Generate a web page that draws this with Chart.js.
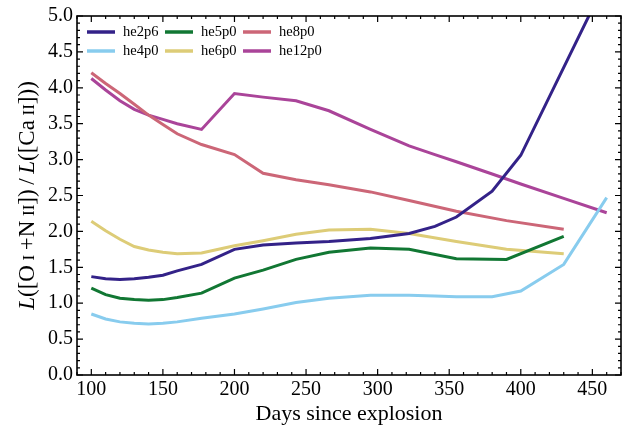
<!DOCTYPE html>
<html>
<head>
<meta charset="utf-8">
<script src="https://cdn.jsdelivr.net/npm/chart.js@4.4.0/dist/chart.umd.min.js"></script>
<style>
  html, body { margin: 0; padding: 0; background: #ffffff; }
  #wrap { width: 635px; height: 436px; position: relative; }
</style>
</head>
<body>
<div id="wrap"><canvas id="ratioChart"></canvas></div>
<script>
// data (null = no model at that epoch)
const days   = [100, 110, 120, 130, 140, 150, 160, 177, 200, 220, 243, 266, 295, 322, 340, 355, 380, 390, 400, 430, 450, 460];
const he2p6  = [1.37, 1.34, 1.33, 1.34, 1.36, 1.39, 1.45, 1.54, 1.75, 1.81, 1.84, 1.86, 1.90, 1.97, 2.07, 2.20, 2.56, null, 3.06, null, 5.10, null];
const he4p0  = [0.85, 0.78, 0.74, 0.72, 0.71, 0.72, 0.74, 0.79, 0.85, 0.92, 1.01, 1.07, 1.11, 1.11, 1.10, 1.09, 1.09, null, 1.17, 1.54, null, 2.47];
const he5p0  = [1.21, 1.12, 1.07, 1.05, 1.04, 1.05, 1.08, 1.14, 1.35, 1.46, 1.61, 1.71, 1.77, 1.75, null, 1.62, null, 1.61, null, 1.93, null, null];
const he6p0  = [2.14, 2.01, 1.89, 1.79, 1.74, 1.71, 1.69, 1.70, 1.80, 1.87, 1.96, 2.02, 2.03, 1.97, null, 1.86, null, 1.75, null, 1.69, null, null];
const he8p0  = [4.21, 4.06, 3.92, 3.77, 3.62, 3.49, 3.36, 3.21, 3.07, 2.81, 2.72, 2.65, 2.55, 2.43, null, 2.28, null, 2.15, null, 2.03, null, null];
const he12p0 = [4.13, 3.97, 3.82, 3.70, 3.62, 3.56, 3.50, 3.42, 3.92, 3.87, 3.82, 3.68, 3.42, 3.19, 3.07, 2.97, 2.80, null, 2.66, 2.46, null, 2.26];

const xTicks = [100, 150, 200, 250, 300, 350, 400, 450];
const yTicks = [0, 0.5, 1, 1.5, 2, 2.5, 3, 3.5, 4, 4.5, 5];
// ==================

const serif = "'Liberation Serif', 'DejaVu Serif', serif";

function series(label, values, color) {
  return {
    label: label,
    data: days.map((d, i) => ({x: d, y: values[i]})),
    borderColor: color,
    backgroundColor: color,
    borderWidth: 3,
    pointRadius: 0,
    tension: 0,
    spanGaps: true,
    fill: false
  };
}

// matplotlib-like legend, 3 columns filled top to bottom
const cornerLegend = {
  id: 'cornerLegend',
  afterDraw(chart) {
    const ctx = chart.ctx;
    const a = chart.chartArea;
    ctx.save();
    ctx.font = '14.5px ' + serif;
    ctx.textBaseline = 'middle';
    chart.data.datasets.forEach((ds, i) => {
      const x = a.left + 10 + Math.floor(i / 2) * 78;
      const y = a.top + 16 + (i % 2) * 19;
      ctx.strokeStyle = ds.borderColor;
      ctx.lineWidth = 3.5;
      ctx.beginPath();
      ctx.moveTo(x, y);
      ctx.lineTo(x + 28, y);
      ctx.stroke();
      ctx.fillStyle = '#000';
      ctx.fillText(ds.label, x + 36, y);
    });
    ctx.restore();
  }
};

// box + inward ticks on all four sides
const frameTicks = {
  id: 'frameTicks',
  afterDatasetsDraw(chart) {
    const ctx = chart.ctx;
    const a = chart.chartArea;
    const xs = chart.scales.x;
    const ys = chart.scales.y;
    ctx.save();
    ctx.strokeStyle = '#000';
    ctx.lineWidth = 1.2;
    ctx.beginPath();
    for (let d = 90; d <= 470; d += 10) {
      const px = xs.getPixelForValue(d);
      const len = d % 50 === 0 ? 6 : 3;
      ctx.moveTo(px, a.bottom); ctx.lineTo(px, a.bottom - len);
      ctx.moveTo(px, a.top); ctx.lineTo(px, a.top + len);
    }
    for (let k = 0; k <= 50; k++) {
      const py = ys.getPixelForValue(k / 10);
      const len = k % 5 === 0 ? 6 : 3;
      ctx.moveTo(a.left, py); ctx.lineTo(a.left + len, py);
      ctx.moveTo(a.right, py); ctx.lineTo(a.right - len, py);
    }
    ctx.stroke();
    ctx.lineWidth = 1.6;
    ctx.strokeRect(a.left, a.top, a.right - a.left, a.bottom - a.top);
    ctx.restore();
  }
};

// y title with italic L and small-cap ionisation stages
const yTitle = {
  id: 'yTitle',
  afterDraw(chart) {
    const ctx = chart.ctx;
    const a = chart.chartArea;
    const size = 23;
    const normal = size + 'px ' + serif;
    const italic = 'italic ' + size + 'px ' + serif;
    const small = Math.round(size * 0.74) + 'px ' + serif;
    const parts = [
      ['L', italic], ['([O\u2009', normal], ['I', small], ['\u2009+N\u2009', normal], ['II', small], ['])\u2009/\u2009', normal],
      ['L', italic], ['([Ca\u2009', normal], ['II', small], [']))', normal]
    ];
    ctx.save();
    let total = 0;
    parts.forEach(p => { ctx.font = p[1]; total += ctx.measureText(p[0]).width; });
    ctx.translate(26, (a.top + a.bottom) / 2);
    ctx.rotate(-Math.PI / 2);
    ctx.fillStyle = '#000';
    ctx.textBaseline = 'alphabetic';
    let x = -total / 2;
    parts.forEach(p => {
      ctx.font = p[1];
      ctx.fillText(p[0], x, 8);
      x += ctx.measureText(p[0]).width;
    });
    ctx.restore();
  }
};

const ctx = document.getElementById('ratioChart').getContext('2d');
const ratioChart = new Chart(ctx, {
  type: 'line',
  data: {
    datasets: [
      series('he2p6', he2p6, '#332288'),
      series('he4p0', he4p0, '#88CCEE'),
      series('he5p0', he5p0, '#117733'),
      series('he6p0', he6p0, '#DDCC77'),
      series('he8p0', he8p0, '#CC6677'),
      series('he12p0', he12p0, '#AA4499')
    ]
  },
  options: {
    responsive: true,
    maintainAspectRatio: false,
    animation: false,
    layout: { padding: { left: 0, top: 13, right: 14, bottom: 0 } },
    plugins: {
      legend: { display: false },
      tooltip: { enabled: false }
    },
    scales: {
      x: {
        type: 'linear',
        min: 90,
        max: 470,
        afterBuildTicks: s => { s.ticks = xTicks.map(v => ({value: v})); },
        afterFit: s => { s.height = 61; },
        grid: { display: false, drawTicks: false },
        border: { display: false },
        ticks: {
          color: '#000',
          font: { family: serif, size: 20 },
          padding: 3,
          maxRotation: 0,
          autoSkip: false
        },
        title: {
          display: true,
          text: 'Days since explosion',
          color: '#000',
          font: { family: serif, size: 22 },
          padding: { top: 0, bottom: 9 }
        }
      },
      y: {
        type: 'linear',
        min: 0,
        max: 5,
        afterBuildTicks: s => { s.ticks = yTicks.map(v => ({value: v})); },
        afterFit: s => { s.width = 77; },
        grid: { display: false, drawTicks: false },
        border: { display: false },
        ticks: {
          color: '#000',
          font: { family: serif, size: 20 },
          padding: 4,
          autoSkip: false,
          callback: v => v.toFixed(1)
        }
      }
    }
  },
  plugins: [frameTicks, cornerLegend, yTitle]
});
</script>
</body>
</html>
